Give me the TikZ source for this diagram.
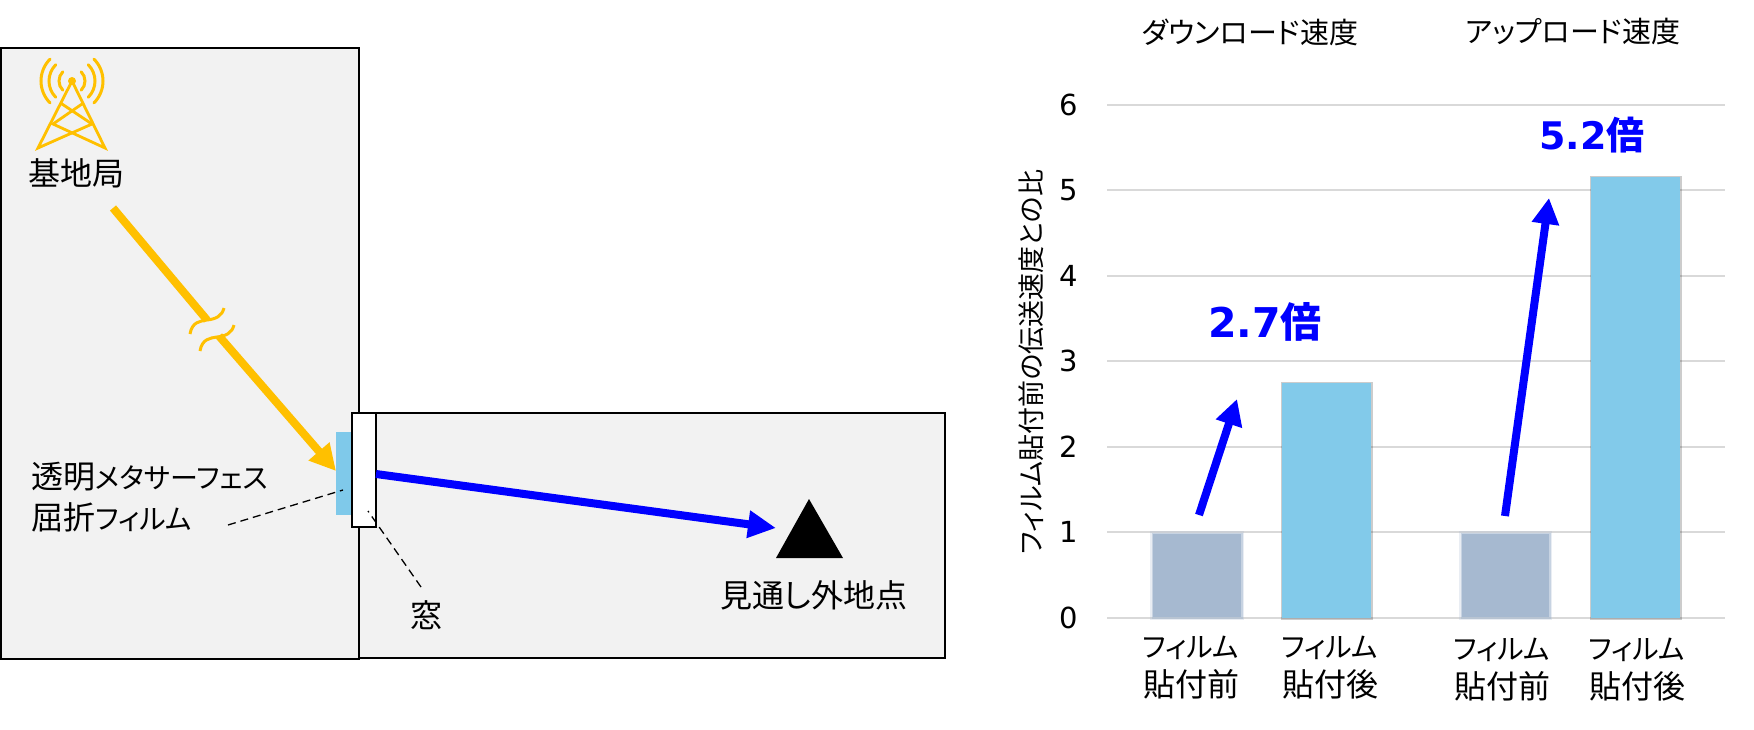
\documentclass[tikz,border=0pt]{standalone}
\usepackage{fontspec}
\setmainfont{Noto Sans CJK JP}[RawFeature=+palt]
\newfontfamily\digitfont{DejaVu Sans}
\usetikzlibrary{arrows.meta}
\definecolor{roomgray}{HTML}{F2F2F2}
\definecolor{filmblue}{HTML}{7FC9EA}
\definecolor{barblue}{HTML}{82CAEA}
\definecolor{bargray}{HTML}{A6B9D0}
\definecolor{gridgray}{HTML}{D9D9D9}
\definecolor{towergold}{HTML}{FFC000}
\definecolor{rayblue}{HTML}{0000FF}
\newcommand{\kana}[1]{{\fontsize{28}{28}\selectfont #1}}
\tikzset{
  room/.style = {draw, line width=1.8pt, fill=roomgray},
  label/.style = {font=\fontsize{32}{41}\selectfont, inner sep=0pt, align=center},
  titlelabel/.style = {font=\fontsize{29}{29}\selectfont, inner sep=0pt},
  axislabel/.style = {font=\fontsize{27}{27}\selectfont, inner sep=0pt},
  ticklabel/.style = {font=\digitfont\fontsize{29}{29}\selectfont, inner sep=0pt},
  ratelabel/.style = {font=\bfseries\fontsize{38}{38}\selectfont, text=rayblue, inner sep=0pt},
  catlabel/.style = {font=\fontsize{32}{39}\selectfont, inner sep=0pt, align=center},
  goldray/.style = {draw=towergold, line width=8pt},
  bluerayline/.style = {draw=rayblue, line width=8pt},
  mast/.style = {draw=towergold, line width=2.8pt, line cap=round},
  leader/.style = {draw, line width=1.3pt, dash pattern=on 8pt off 5pt},
  softbar/.style = {fill=bargray, draw=bargray, draw opacity=.5, line width=3pt,
    preaction={draw=bargray, draw opacity=.25, line width=6pt}},
  sharpbar/.style = {fill=barblue,
    preaction={draw=black, draw opacity=.2, line width=3pt}}
}
\begin{document}
\begin{tikzpicture}[x=1pt, y=-1pt]
  \useasboundingbox (0,0) rectangle (1754,729);

  \draw[room] (359,413) rectangle (945,658);
  \draw[room] (1,48) rectangle (359,659);
  \fill[filmblue] (336,432) rectangle (352,515);
  \draw[line width=1.8pt, fill=white] (352,413) rectangle (376,527);

  \node[label] (station) at (76,173) {基地局};
  \node[label] (glass) at (426,615) {窓};
  \node[label, anchor=west, align=left] (film) at (31,497) {透明\kana{メタサーフェス}\\屈折\kana{フィルム}};
  \node[label] (point) at (814,595) {見通し外地点};

  \fill[black] (809,499) coordinate (top) -- (843,558) -- (776,558) -- cycle;

  \fill[towergold] (72,81) circle (4);
  \draw[mast] (72,81) -- (38,148) -- (92,124) -- (62,104);
  \draw[mast] (72,81) -- (105,148) -- (53,124) -- (82,104);
  \foreach \r in {13,23,31} {
    \draw[mast, line width=3pt] (72,81) ++(135:\r) arc (135:225:\r);
    \draw[mast, line width=3pt] (72,81) ++(45:\r) arc (45:-45:\r);
  }

  \coordinate (beamstart) at (113,208);
  \coordinate (beambreak) at (207,320);
  \coordinate (beamresume) at (219,336);
  \coordinate (beamtip) at (336,471);
  \coordinate (refrstart) at (376,474);
  \coordinate (refrtip) at (776,528);
  \draw[goldray] (beamstart) -- (beambreak);
  \draw[goldray, -{Triangle[length=26pt, width=26pt]}] (beamresume) -- (beamtip);
  \draw[bluerayline, -{Triangle[length=28pt, width=26pt]}] (refrstart) -- (refrtip);
  \draw[mast, line width=3pt, line cap=butt] (190,334) .. controls (192,322) and (200,321) .. (207,320) .. controls (216,319) and (222,316) .. (224,308);
  \draw[mast, line width=3pt, line cap=butt] (200,351) .. controls (202,339) and (210,338) .. (217,337) .. controls (226,336) and (232,333) .. (234,325);

  \coordinate (filmlead) at (228,525);
  \coordinate (filmend) at (343,490);
  \coordinate (glasslead) at (421,587);
  \coordinate (glassend) at (368,511);
  \draw[leader] (filmlead) -- (filmend);
  \draw[leader] (glasslead) -- (glassend);

  \foreach \v/\y in {0/618,1/532,2/447,3/361,4/276,5/190,6/105} {
    \draw[gridgray, line width=1.8pt] (1107,\y) -- (1725,\y);
    \node[ticklabel] (tick\v) at (1069,\y) {\v};
  }

  \draw[softbar] (1153,534) rectangle (1241,617);
  \fill[sharpbar] (1282,383) rectangle (1371,618);
  \draw[softbar] (1462,534) rectangle (1549,617);
  \fill[sharpbar] (1591,177) rectangle (1680,618);

  \node[titlelabel] (downtitle) at (1250,32) {ダウンロード速度};
  \node[titlelabel] (uptitle) at (1573,32) {アップロード速度};
  \node[axislabel, rotate=90] (axisname) at (1031,362) {フィルム貼付前の伝送速度との比};

  \node[catlabel] (cata) at (1191,668) {\kana{フィルム}\\貼付前};
  \node[catlabel] (catb) at (1330,668) {\kana{フィルム}\\貼付後};
  \node[catlabel] (catc) at (1502,670) {\kana{フィルム}\\貼付前};
  \node[catlabel] (catd) at (1637,670) {\kana{フィルム}\\貼付後};

  \node[ratelabel, font=\bfseries\fontsize{41}{41}\selectfont] (ratedown) at (1265,322) {{\digitfont 2.7}倍};
  \node[ratelabel] (rateup) at (1592,135) {{\digitfont 5.2}倍};

  \coordinate (downstart) at (1199,515);
  \coordinate (downtip) at (1237,399);
  \coordinate (upstart) at (1505,516);
  \coordinate (uptip) at (1549,198);
  \draw[bluerayline, -{Triangle[length=26pt, width=26pt]}] (downstart) -- (downtip);
  \draw[bluerayline, -{Triangle[length=26pt, width=26pt]}] (upstart) -- (uptip);
\end{tikzpicture}
\end{document}
